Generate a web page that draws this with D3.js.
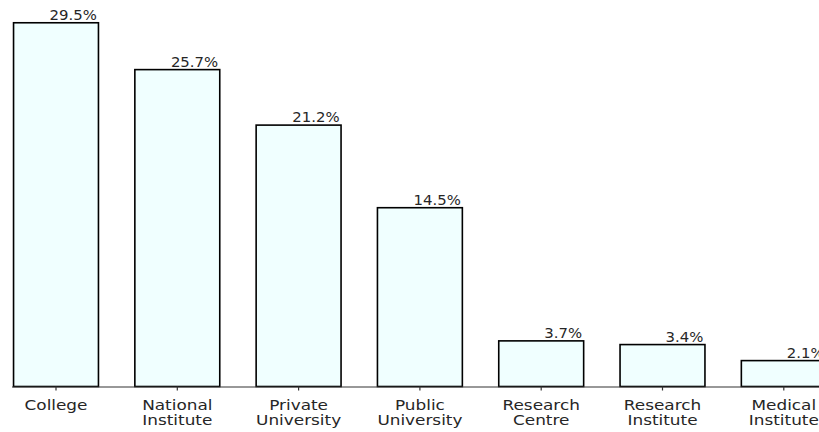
<!DOCTYPE html>
<html><head><meta charset="utf-8">
<script src="https://cdn.jsdelivr.net/npm/d3@7/dist/d3.min.js"></script>
<style>body{margin:0;background:#fff}svg{display:block}</style>
</head><body>
<svg id="c" width="819" height="432"></svg>
<script>
const categories = ["College", "National Institute", "Private University", "Public University", "Research Centre", "Research Institute", "Medical Institute"];
const categoryLines = [["College"], ["National", "Institute"], ["Private", "University"], ["Public", "University"], ["Research", "Centre"], ["Research", "Institute"], ["Medical", "Institute"]];
const values = [29.5, 25.7, 21.2, 14.5, 3.7, 3.4, 2.1];
const valueLabels = ["29.5%", "25.7%", "21.2%", "14.5%", "3.7%", "3.4%", "2.1%"];

const svg = d3.select("#c");
const baseY = 386.5;
const step = 121.3;
const x0 = 56 - step / 2;
const x = d3.scaleBand().domain(categories)
  .range([x0, x0 + step * categories.length]).paddingInner(0.3).paddingOuter(0.15);
const y = d3.scaleLinear().domain([0, 31]).range([baseY, baseY - 31 * 12.33]);

const g = svg.append("g");
g.selectAll("rect.bar").data(values).join("rect")
  .attr("class", "bar")
  .attr("x", (d, i) => x(categories[i]))
  .attr("y", d => y(d))
  .attr("width", x.bandwidth())
  .attr("height", d => y(0) - y(d))
  .attr("fill", "#f0ffff")
  .attr("stroke", "#000")
  .attr("stroke-width", 1.6);

g.selectAll("text.val").data(values).join("text")
  .attr("class", "val")
  .attr("transform", (d, i) => `translate(${x(categories[i]) + x.bandwidth() - 1.5},${y(d) - 2.7}) scale(1.13,1)`)
  .attr("text-anchor", "end")
  .attr("font-family", "DejaVu Sans")
  .attr("font-size", 13.2)
  .attr("fill", "#262626")
  .text((d, i) => valueLabels[i]);

const axis = d3.axisBottom(x).tickSize(4).tickSizeOuter(0).tickFormat(() => "");
const ax = svg.append("g").attr("transform", `translate(0,${baseY})`).call(axis);
ax.select(".domain").attr("d", `M12,0.5H819`).attr("stroke", "#333").attr("stroke-width", 1.2);
ax.selectAll(".tick line").attr("stroke", "#333").attr("stroke-width", 1.2);

const lab = svg.append("g");
categories.forEach((c, i) => {
  categoryLines[i].forEach((ln, k) => {
    lab.append("text")
      .attr("transform", `translate(${x(c) + x.bandwidth() / 2},${409.5 + k * 15.8}) scale(1.25,1)`)
      .attr("text-anchor", "middle")
      .attr("font-family", "DejaVu Sans")
      .attr("font-size", 13.5)
      .attr("fill", "#262626")
      .text(ln);
  });
});
</script>
</body></html>
